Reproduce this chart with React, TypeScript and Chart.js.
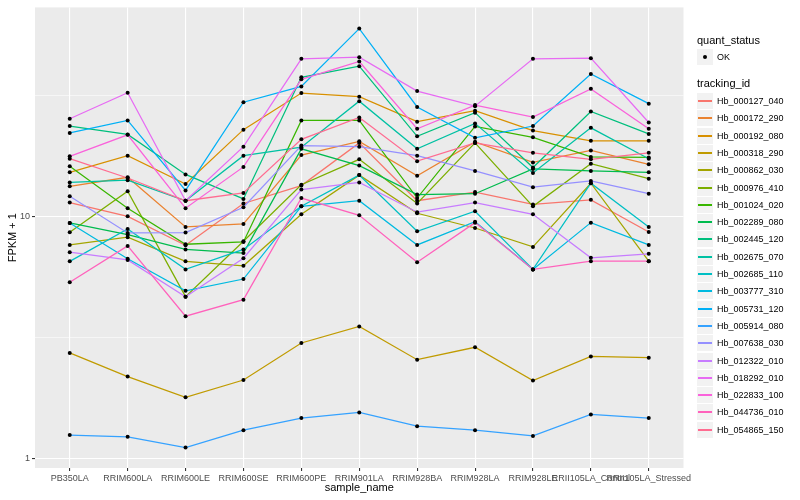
import React, { useEffect, useRef } from 'react';
import { Chart, registerables } from 'chart.js';

Chart.register(...registerables);

const categories = [
  'PB350LA', 'RRIM600LA', 'RRIM600LE', 'RRIM600SE', 'RRIM600PE', 'RRIM901LA',
  'RRIM928BA', 'RRIM928LA', 'RRIM928LE', 'RRII105LA_Control', 'RRII105LA_Stressed',
];

const trackingIds = [
  'Hb_000127_040', 'Hb_000172_290', 'Hb_000192_080', 'Hb_000318_290', 'Hb_000862_030',
  'Hb_000976_410', 'Hb_001024_020', 'Hb_002289_080', 'Hb_002445_120', 'Hb_002675_070',
  'Hb_002685_110', 'Hb_003777_310', 'Hb_005731_120', 'Hb_005914_080', 'Hb_007638_030',
  'Hb_012322_010', 'Hb_018292_010', 'Hb_022833_100', 'Hb_044736_010', 'Hb_054865_150',
];

const seriesColors = [
  '#F8766D', '#EA8331', '#D89000', '#C09B00', '#A3A500',
  '#7CAE00', '#39B600', '#00BB4E', '#00BF7D', '#00C1A3',
  '#00BFC4', '#00BAE0', '#00B0F6', '#35A2FF', '#9590FF',
  '#C77CFF', '#E76BF3', '#FA62DB', '#FF62BC', '#FF6C91',
];

const hb000127_040 = [11.4, 10.0, 7.6, 11.3, 13.4, 20.1, 11.6, 12.6, 11.2, 11.7, 8.62];
const hb000172_290 = [13.3, 14.5, 9.04, 9.3, 17.9, 20.4, 14.7, 20.3, 16.7, 18.7, 16.4];
const hb000192_080 = [15.2, 17.8, 13.6, 22.8, 32.3, 31.2, 24.6, 27.3, 22.6, 20.5, 20.5];
const hb000318_290 = [2.73, 2.18, 1.79, 2.11, 3.0, 3.51, 2.56, 2.88, 2.1, 2.64, 2.61];
const hb000862_030 = [7.62, 8.2, 6.52, 6.25, 10.2, 14.8, 10.3, 8.95, 7.48, 13.7, 6.53];
const hb000976_410 = [8.6, 12.7, 4.66, 7.89, 13.5, 17.2, 11.3, 20.1, 11.0, 16.5, 14.3];
const hb001024_020 = [16.1, 10.8, 7.67, 7.84, 24.9, 24.9, 11.9, 23.5, 21.2, 17.6, 17.5];
const hb002289_080 = [9.39, 8.41, 7.3, 7.05, 19.0, 16.2, 12.3, 12.4, 15.7, 15.4, 15.2];
const hb002445_120 = [23.6, 21.8, 14.9, 11.8, 37.5, 41.7, 21.4, 26.8, 15.9, 27.1, 21.9];
const hb002675_070 = [13.8, 14.1, 11.6, 17.8, 19.3, 29.9, 19.0, 24.2, 15.1, 23.2, 17.3];
const hb002685_110 = [6.52, 8.87, 6.04, 7.3, 11.0, 14.8, 8.68, 10.5, 6.04, 13.7, 9.04];
const hb003777_310 = [9.39, 6.68, 4.93, 5.51, 11.0, 11.6, 7.62, 9.51, 6.04, 9.42, 7.62];
const hb005731_120 = [22.1, 24.9, 12.8, 29.6, 34.4, 59.6, 28.3, 21.1, 23.6, 38.7, 29.2];
const hb005914_080 = [1.25, 1.23, 1.11, 1.31, 1.47, 1.55, 1.36, 1.31, 1.24, 1.52, 1.47];
const hb007638_030 = [12.1, 8.54, 8.57, 10.9, 19.6, 19.4, 17.8, 15.4, 13.2, 14.0, 12.4];
const hb012322_010 = [7.11, 6.61, 4.66, 6.72, 12.9, 13.8, 10.4, 11.4, 10.2, 6.74, 7.0];
const hb018292_010 = [25.3, 32.4, 11.6, 19.4, 44.7, 45.4, 32.9, 28.5, 44.7, 45.0, 24.4];
const hb022833_100 = [17.7, 21.7, 10.8, 16.0, 36.8, 43.6, 23.0, 28.8, 25.7, 33.6, 23.0];
const hb044736_010 = [5.34, 7.55, 3.87, 4.53, 11.9, 10.1, 6.47, 9.42, 6.04, 6.53, 6.53];
const hb054865_150 = [17.3, 14.4, 11.6, 12.5, 20.8, 25.6, 16.9, 20.1, 18.3, 17.2, 18.3];

const seriesValues = [
  hb000127_040, hb000172_290, hb000192_080, hb000318_290, hb000862_030,
  hb000976_410, hb001024_020, hb002289_080, hb002445_120, hb002675_070,
  hb002685_110, hb003777_310, hb005731_120, hb005914_080, hb007638_030,
  hb012322_010, hb018292_010, hb022833_100, hb044736_010, hb054865_150,
];

const yMajorTicks = [1, 10];
const yMinorTicks = [3.1623, 31.623];

const FONT = '"Liberation Sans", Arial, Helvetica, sans-serif';

export default function App() {
  const ref = useRef<HTMLCanvasElement>(null);

  useEffect(() => {
    if (!ref.current) return;
    Chart.defaults.font.family = FONT;

    const panelBg = {
      id: 'panelBg',
      beforeDraw(chart: any) {
        const { ctx, chartArea: a } = chart;
        ctx.save();
        ctx.fillStyle = '#EBEBEB';
        ctx.fillRect(a.left, a.top, a.right - a.left, a.bottom - a.top);
        ctx.restore();
      },
    };

    const isMajor = (v: any) => yMajorTicks.includes(v);

    const lineSets = seriesValues.map((vals, i) => ({
      label: trackingIds[i],
      data: vals.map((v, j) => ({ x: j, y: v })),
      borderColor: seriesColors[i],
      backgroundColor: seriesColors[i],
      borderWidth: 1.25,
      pointRadius: 0,
      fill: false,
      tension: 0,
      order: 40 - i,
    }));

    const pointSet = {
      label: 'OK',
      data: seriesValues.flatMap((vals) => vals.map((v, j) => ({ x: j, y: v }))),
      showLine: false,
      pointRadius: 2,
      pointBackgroundColor: '#000000',
      pointBorderWidth: 0,
      borderColor: '#000000',
      order: 0,
    };

    const chart = new Chart(ref.current, {
      type: 'line',
      data: { datasets: [...lineSets, pointSet] as any },
      options: {
        animation: false,
        responsive: false,
        events: [],
        layout: { padding: { left: 0, top: 5, right: 116.5, bottom: 0 } },
        plugins: { legend: { display: false }, tooltip: { enabled: false } },
        scales: {
          x: {
            type: 'linear',
            min: -0.6,
            max: 10.6,
            afterBuildTicks: (s: any) => {
              s.ticks = categories.map((_, i) => ({ value: i }));
            },
            afterFit: (s: any) => {
              s.height = 32;
            },
            ticks: {
              callback: (_v: any, i: number) => categories[i] ?? '',
              autoSkip: false,
              maxRotation: 0,
              minRotation: 0,
              color: '#4D4D4D',
              font: { size: 9, family: FONT },
              padding: 2,
            },
            grid: { color: '#FFFFFF', lineWidth: 1.1, tickColor: '#333333', tickLength: 3 },
            border: { display: false },
            title: {
              display: true,
              text: 'sample_name',
              color: '#000000',
              font: { size: 11, family: FONT },
              padding: { top: 0, bottom: 5 },
            },
          },
          y: {
            type: 'logarithmic',
            min: 0.914,
            max: 72.9,
            afterBuildTicks: (s: any) => {
              s.ticks = [...yMajorTicks, ...yMinorTicks].sort((a, b) => a - b).map((v) => ({ value: v }));
            },
            afterFit: (s: any) => {
              s.width = 35;
            },
            ticks: {
              callback: (v: any) => (isMajor(v) ? String(v) : ''),
              autoSkip: false,
              color: '#4D4D4D',
              font: { size: 9, family: FONT },
              padding: 2,
            },
            grid: {
              color: '#FFFFFF',
              lineWidth: (c: any) => (c.tick && isMajor(c.tick.value) ? 1.1 : 0.55),
              tickColor: (c: any) => (c.tick && isMajor(c.tick.value) ? '#333333' : 'rgba(0,0,0,0)'),
              tickLength: 3,
            },
            border: { display: false },
            title: {
              display: true,
              text: 'FPKM + 1',
              color: '#000000',
              font: { size: 11, family: FONT },
              padding: { top: 6, bottom: 0 },
            },
          },
        },
      } as any,
      plugins: [panelBg],
    });

    return () => chart.destroy();
  }, []);

  const itemTop = 101;
  const itemStep = 17.3;

  return (
    <div style={{ position: 'fixed', left: 0, top: 0, width: 800, height: 500, background: '#FFFFFF', fontFamily: FONT }}>
      <canvas ref={ref} width={800} height={500} style={{ position: 'absolute', left: 0, top: 0, width: 800, height: 500 }} />
      <div style={{ position: 'absolute', left: 697, top: 34, fontSize: 11, lineHeight: '13px', color: '#000', whiteSpace: 'nowrap' }}>quant_status</div>
      <div style={{ position: 'absolute', left: 697, top: 49, width: 16, height: 16, background: '#F2F2F2' }}>
        <div style={{ position: 'absolute', left: 6, top: 6, width: 4, height: 4, borderRadius: '50%', background: '#000' }} />
      </div>
      <div style={{ position: 'absolute', left: 717, top: 51.5, fontSize: 9, lineHeight: '11px', color: '#000', whiteSpace: 'nowrap' }}>OK</div>
      <div style={{ position: 'absolute', left: 697, top: 77, fontSize: 11, lineHeight: '13px', color: '#000', whiteSpace: 'nowrap' }}>tracking_id</div>
      {trackingIds.map((id, i) => {
        const cy = Math.round(itemTop + i * itemStep);
        return (
          <React.Fragment key={id}>
            <div style={{ position: 'absolute', left: 697, top: cy - 8, width: 16, height: 16, background: '#F2F2F2' }}>
              <div style={{ position: 'absolute', left: 1, top: 7, width: 14, height: 2, background: seriesColors[i] }} />
            </div>
            <div style={{ position: 'absolute', left: 717, top: cy - 5.5, fontSize: 9, lineHeight: '11px', color: '#000', whiteSpace: 'nowrap' }}>{id}</div>
          </React.Fragment>
        );
      })}
    </div>
  );
}
